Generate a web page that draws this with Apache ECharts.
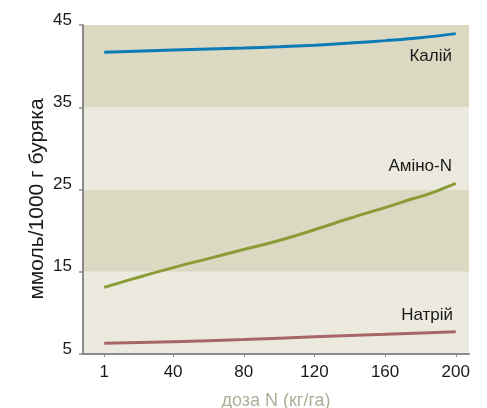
<!DOCTYPE html>
<html><head><meta charset="utf-8">
<script src="https://cdn.jsdelivr.net/npm/echarts@6/dist/echarts.min.js"></script>
<style>html,body{margin:0;padding:0;background:#fff}#c{width:487px;height:408px}</style>
</head><body><div id="c"></div>
<script>
const kaliyX = [1, 40, 80, 100, 120, 140, 160, 180, 200];
const kaliyY = [41.7, 41.95, 42.2, 42.35, 42.55, 42.8, 43.1, 43.45, 43.95];
const aminoX = [1, 20, 40, 60, 80, 100, 120, 140, 160, 176, 184, 200];
const aminoY = [13.1, 14.3, 15.5, 16.6, 17.7, 18.8, 20.1, 21.5, 22.8, 23.9, 24.4, 25.75];
const natriyX = [1, 40, 80, 120, 160, 200];
const natriyY = [6.3, 6.5, 6.75, 7.1, 7.4, 7.7];
const xTicks = [1, 40, 80, 120, 160, 200];
const yTicks = [5, 15, 25, 35, 45];
const seriesNames = ['Калій', 'Аміно-N', 'Натрій'];
const yName = 'ммоль/1000 г буряка';
const xName = 'доза N (кг/га)';

const zip = (xs, ys) => xs.map((x, i) => [x, ys[i]]);
const font = 'Liberation Sans';
const chart = echarts.init(document.getElementById('c'));
chart.setOption({
  animation: false,
  grid: {left: 83, right: 18, top: 25, bottom: 54, outerBoundsMode: 'none', containLabel: false},
  xAxis: {
    type: 'value', min: -11, max: 207.5,
    axisLine: {show: true, onZero: false, lineStyle: {color: '#8a8a8a', width: 2}},
    axisTick: {show: true, customValues: xTicks, length: 3, lineStyle: {color: '#8a8a8a', width: 1}},
    axisLabel: {customValues: xTicks, color: '#1a1a1a', fontSize: 17, fontFamily: font, margin: 10},
    splitLine: {show: false},
    name: xName, nameLocation: 'middle', nameGap: 38,
    nameTextStyle: {color: '#b0ad98', fontSize: 18, fontFamily: font}
  },
  yAxis: {
    type: 'value', min: 5, max: 45, interval: 10,
    axisLine: {show: true, onZero: false, lineStyle: {color: '#8a8a8a', width: 2}},
    axisTick: {show: true, length: 4, lineStyle: {color: '#8a8a8a', width: 1.5}},
    axisLabel: {color: '#1a1a1a', fontSize: 17, fontFamily: font, margin: 11, verticalAlign: 'bottom', lineHeight: 10},
    splitLine: {show: false},
    splitArea: {show: true, areaStyle: {color: ['#eceadf', '#dcd9c2']}}
  },
  series: [
    {name: seriesNames[0], type: 'line', data: zip(kaliyX, kaliyY), smooth: 0.4, symbol: 'none',
     lineStyle: {color: '#0b7bb8', width: 3}},
    {name: seriesNames[1], type: 'line', data: zip(aminoX, aminoY), smooth: 0.4, symbol: 'none',
     lineStyle: {color: '#8a9c36', width: 3}},
    {name: seriesNames[2], type: 'line', data: zip(natriyX, natriyY), smooth: 0.4, symbol: 'none',
     lineStyle: {color: '#a86668', width: 3}}
  ],
  graphic: [
    {type: 'text', x: 452, y: 56, z: 10, style: {text: seriesNames[0], fill: '#1a1a1a', fontSize: 17, fontFamily: font, align: 'right', verticalAlign: 'middle'}},
    {type: 'text', x: 452, y: 166, z: 10, style: {text: seriesNames[1], fill: '#1a1a1a', fontSize: 17, fontFamily: font, align: 'right', verticalAlign: 'middle'}},
    {type: 'text', x: 453, y: 315, z: 10, style: {text: seriesNames[2], fill: '#1a1a1a', fontSize: 17, fontFamily: font, align: 'right', verticalAlign: 'middle'}},
    {type: 'text', x: 37, y: 199, rotation: Math.PI / 2, z: 10, style: {text: yName, fill: '#1a1a1a', fontSize: 21, fontFamily: font, align: 'center', verticalAlign: 'middle'}}
  ]
});
</script></body></html>
